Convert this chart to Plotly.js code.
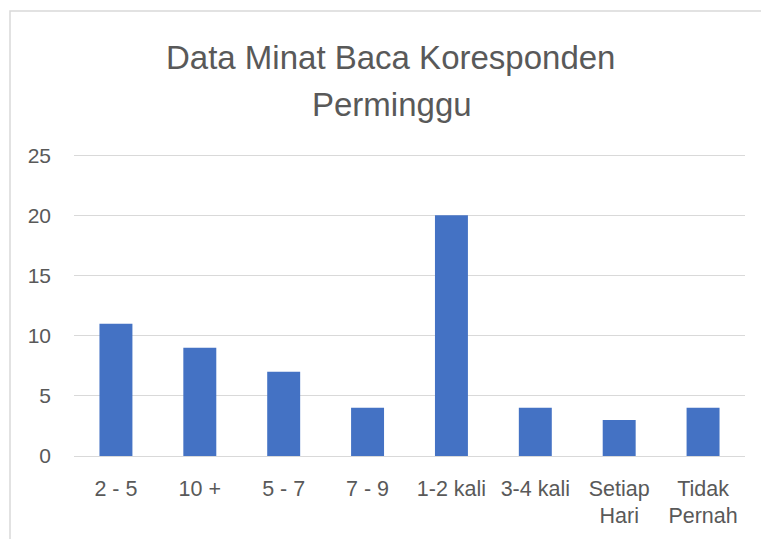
<!DOCTYPE html>
<html>
<head>
<meta charset="utf-8">
<script src="https://cdn.plot.ly/plotly-3.0.1.min.js"></script>
<style>html,body{margin:0;padding:0;background:#fff;}#chart{width:761px;height:539px;}</style>
</head>
<body>
<div id="chart"></div>
<script>
var categories = ["2 - 5", "10 +", "5 - 7", "7 - 9", "1-2 kali", "3-4 kali", "Setiap<br>Hari", "Tidak<br>Pernah"];
var values = [11, 9, 7, 4, 20, 4, 3, 4];
var yTicks = [0, 5, 10, 15, 20, 25];
var titleLines = ["Data Minat Baca Koresponden", "Perminggu"];

var font = "Liberation Sans, Arial, sans-serif";
var textColor = "#595959";

var trace = {
  type: "bar",
  x: categories,
  y: values,
  marker: {color: "#4472C4"},
  hoverinfo: "x+y"
};

var W = 761, H = 539, L = 74, R = 16, T = 154, B = 83;
var pw = W - L - R, ph = H - T - B;
function px2x(p){ return (p - L) / pw; }
function px2y(p){ return (H - B - p) / ph; }

var layout = {
  width: W, height: H,
  margin: {l: L, r: R, t: T, b: B, pad: 0},
  paper_bgcolor: "#ffffff",
  plot_bgcolor: "#ffffff",
  showlegend: false,
  bargap: 0.607,
  font: {family: font, color: textColor, size: 21},
  xaxis: {
    type: "category",
    showgrid: false,
    showline: false,
    zeroline: false,
    ticks: "",
    ticklabelstandoff: 17,
    tickfont: {family: font, color: textColor, size: 21.5},
    fixedrange: true
  },
  yaxis: {
    range: [0, 25.1],
    tickvals: yTicks,
    ticktext: yTicks.map(String),
    showgrid: true,
    gridcolor: "#d9d9d9",
    gridwidth: 1,
    zeroline: true,
    zerolinecolor: "#d9d9d9",
    zerolinewidth: 1,
    showline: false,
    ticks: "",
    ticklabelstandoff: 22,
    tickfont: {family: font, color: textColor, size: 21},
    fixedrange: true
  },
  annotations: [
    {text: titleLines[0], xref: "paper", yref: "paper", x: px2x(390), y: px2y(57), xanchor: "center", yanchor: "middle", showarrow: false, font: {family: font, size: 33, color: textColor}},
    {text: titleLines[1], xref: "paper", yref: "paper", x: px2x(392), y: px2y(104), xanchor: "center", yanchor: "middle", showarrow: false, font: {family: font, size: 33, color: textColor}}
  ],
  shapes: [
    {type: "rect", xref: "paper", yref: "paper", x0: px2x(10), x1: px2x(800), y0: px2y(600), y1: px2y(11), line: {color: "#d9d9d9", width: 1.5}, fillcolor: "rgba(0,0,0,0)", layer: "below"}
  ]
};

Plotly.newPlot("chart", [trace], layout, {displayModeBar: false, staticPlot: true});
</script>
</body>
</html>
